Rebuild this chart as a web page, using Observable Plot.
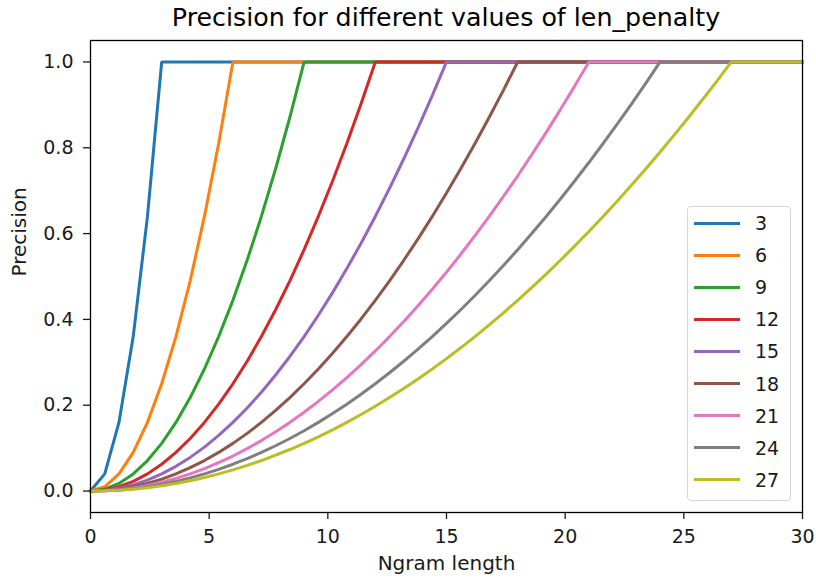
<!DOCTYPE html>
<html>
<head>
<meta charset="utf-8">
<script src="https://cdn.jsdelivr.net/npm/d3@7"></script>
<script src="https://cdn.jsdelivr.net/npm/@observablehq/plot@0.6"></script>
<style>
  html, body { margin: 0; padding: 0; background: #fff; }
  #wrap { position: relative; width: 816px; height: 580px; font-family: "DejaVu Sans", sans-serif; }
  #title { position: absolute; left: 90px; width: 712px; top: 3px; text-align: center; font-size: 25.3px; line-height: 30px; color: #000; white-space: nowrap; }
  #legend { position: absolute; left: 687px; top: 206px; width: 104px; height: 295px; border: 1.3px solid #d6d6d6; border-radius: 4px; background: rgba(255,255,255,0.85); box-sizing: border-box; }
  .item { position: absolute; left: 6px; height: 24px; }
  .item .sw { position: absolute; left: 0; top: 10.5px; width: 46px; height: 3px; }
  .item .lb { position: absolute; left: 61px; top: 0px; font-size: 19px; line-height: 24px; color: #1a1a1a; white-space: nowrap; }
</style>
</head>
<body>
<div id="wrap">
  <div id="chart"></div>
  <div id="title"></div>
  <div id="legend"></div>
</div>
<script>
const title = "Precision for different values of len_penalty";
const xLabel = "Ngram length";
const yLabel = "Precision";
const penalties = [3, 6, 9, 12, 15, 18, 21, 24, 27];
const colors = ["#1f77b4", "#ff7f0e", "#2ca02c", "#d62728", "#9467bd", "#8c564b", "#e377c2", "#7f7f7f", "#bcbd22"];
const xTicks = [0, 5, 10, 15, 20, 25, 30];
const yTicks = [0.0, 0.2, 0.4, 0.6, 0.8, 1.0];

// Ngram length sample points (step 0.6)
const ngram = [0, 0.6, 1.2, 1.8, 2.4, 3.0, 3.6, 4.2, 4.8, 5.4, 6.0, 6.6, 7.2, 7.8, 8.4, 9.0, 9.6, 10.2, 10.8, 11.4,
  12.0, 12.6, 13.2, 13.8, 14.4, 15.0, 15.6, 16.2, 16.8, 17.4, 18.0, 18.6, 19.2, 19.8, 20.4, 21.0, 21.6, 22.2, 22.8, 23.4,
  24.0, 24.6, 25.2, 25.8, 26.4, 27.0, 27.6, 28.2, 28.8, 29.4, 30.0];

// Precision per penalty until it reaches its plateau (1.0 afterwards)
const p3 = [0, 0.04, 0.16, 0.36, 0.64, 1.0];
const p6 = [0, 0.01, 0.04, 0.09, 0.16, 0.25, 0.36, 0.49, 0.64, 0.81, 1.0];
const p9 = [0, 0.0044, 0.0178, 0.04, 0.0711, 0.1111, 0.16, 0.2178, 0.2844, 0.36, 0.4444, 0.5378, 0.64, 0.7511, 0.8711, 1.0];
const p12 = [0, 0.0025, 0.01, 0.0225, 0.04, 0.0625, 0.09, 0.1225, 0.16, 0.2025, 0.25, 0.3025, 0.36, 0.4225, 0.49, 0.5625,
  0.64, 0.7225, 0.81, 0.9025, 1.0];
const p15 = [0, 0.0016, 0.0064, 0.0144, 0.0256, 0.04, 0.0576, 0.0784, 0.1024, 0.1296, 0.16, 0.1936, 0.2304, 0.2704, 0.3136,
  0.36, 0.4096, 0.4624, 0.5184, 0.5776, 0.64, 0.7056, 0.7744, 0.8464, 0.9216, 1.0];
const p18 = [0, 0.0011, 0.0044, 0.01, 0.0178, 0.0278, 0.04, 0.0544, 0.0711, 0.09, 0.1111, 0.1344, 0.16, 0.1878, 0.2178,
  0.25, 0.2844, 0.3211, 0.36, 0.4011, 0.4444, 0.49, 0.5378, 0.5878, 0.64, 0.6944, 0.7511, 0.81, 0.8711, 0.9344, 1.0];
const p21 = [0, 0.0008, 0.0033, 0.0073, 0.0131, 0.0204, 0.0294, 0.04, 0.0522, 0.0661, 0.0816, 0.0988, 0.1176, 0.138, 0.16,
  0.1837, 0.209, 0.2359, 0.2645, 0.2947, 0.3265, 0.36, 0.3951, 0.4318, 0.4702, 0.5102, 0.5518, 0.5951, 0.64, 0.6865,
  0.7347, 0.7845, 0.8359, 0.889, 0.9437, 1.0];
const p24 = [0, 0.0006, 0.0025, 0.0056, 0.01, 0.0156, 0.0225, 0.0306, 0.04, 0.0506, 0.0625, 0.0756, 0.09, 0.1056, 0.1225,
  0.1406, 0.16, 0.1806, 0.2025, 0.2256, 0.25, 0.2756, 0.3025, 0.3306, 0.36, 0.3906, 0.4225, 0.4556, 0.49, 0.5256,
  0.5625, 0.6006, 0.64, 0.6806, 0.7225, 0.7656, 0.81, 0.8556, 0.9025, 0.9506, 1.0];
const p27 = [0, 0.0005, 0.002, 0.0044, 0.0079, 0.0123, 0.0178, 0.0242, 0.0316, 0.04, 0.0494, 0.0598, 0.0711, 0.0835, 0.0968,
  0.1111, 0.1264, 0.1427, 0.16, 0.1783, 0.1975, 0.2178, 0.239, 0.2612, 0.2844, 0.3086, 0.3338, 0.36, 0.3872, 0.4153,
  0.4444, 0.4746, 0.5057, 0.5378, 0.5709, 0.6049, 0.64, 0.6761, 0.7131, 0.7511, 0.7901, 0.8301, 0.8711, 0.9131, 0.9561, 1.0];
const plateau = 1.0;

const series = [p3, p6, p9, p12, p15, p18, p21, p24, p27];
const data = [];
penalties.forEach((p, si) => {
  ngram.forEach((x, i) => {
    const v = series[si][i];
    data.push({penalty: String(p), x, y: v === undefined ? plateau : v});
  });
});

const chart = Plot.plot({
  width: 816,
  height: 580,
  marginLeft: 90,
  marginRight: 14,
  marginTop: 40,
  marginBottom: 68,
  style: {fontFamily: "DejaVu Sans, sans-serif", fontSize: "19px", color: "#1a1a1a", background: "white"},
  x: {domain: [0, 30]},
  y: {domain: [-0.05, 1.05]},
  color: {domain: penalties.map(String), range: colors},
  marks: [
    Plot.line(data, {x: "x", y: "y", z: "penalty", stroke: "penalty", strokeWidth: 3, strokeLinejoin: "miter", strokeLinecap: "square"}),
    Plot.frame({stroke: "black", strokeWidth: 1.3}),
    Plot.axisX({ticks: xTicks, tickSize: 7, tickPadding: 10, label: null, fontSize: 19, tickFormat: d3.format("d"), strokeWidth: 1.3}),
    Plot.axisY({ticks: yTicks, tickSize: 7, tickPadding: 10, label: null, fontSize: 19, tickFormat: d3.format(".1f"), strokeWidth: 1.3}),
    Plot.text([xLabel], {frameAnchor: "bottom", text: d => d, dy: 57, fontSize: 20, fill: "#1a1a1a"}),
    Plot.text([yLabel], {frameAnchor: "left", text: d => d, dx: -71, rotate: -90, fontSize: 20, fill: "#1a1a1a"})
  ]
});
document.getElementById("chart").appendChild(chart);
document.getElementById("title").textContent = title;

const legend = document.getElementById("legend");
penalties.forEach((p, i) => {
  const item = document.createElement("div");
  item.className = "item";
  item.style.top = (4 + i * 32.1) + "px";
  const sw = document.createElement("div");
  sw.className = "sw";
  sw.style.background = colors[i];
  const lb = document.createElement("div");
  lb.className = "lb";
  lb.textContent = String(p);
  item.appendChild(sw);
  item.appendChild(lb);
  legend.appendChild(item);
});
</script>
</body>
</html>
